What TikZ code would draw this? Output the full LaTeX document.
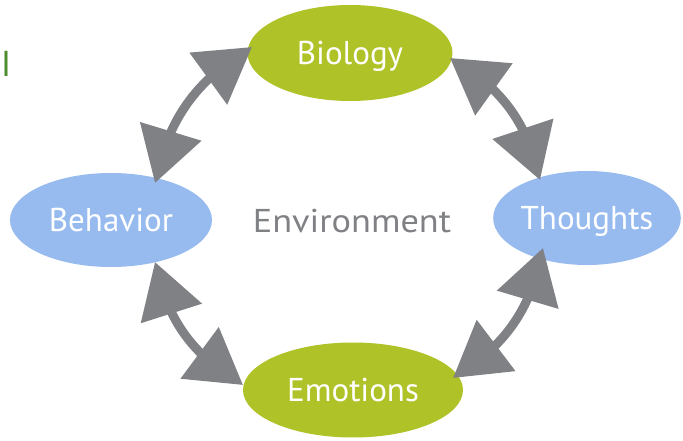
\documentclass[tikz,border=0pt]{standalone}
\usepackage{fontspec}
\setmainfont{PT Sans}
\usetikzlibrary{shapes.geometric,arrows.meta,bending}
\definecolor{bgreen}{RGB}{175,194,39}
\definecolor{bblue}{RGB}{151,186,239}
\definecolor{agray}{RGB}{128,129,133}
\definecolor{tgray}{RGB}{128,129,132}
\definecolor{igreen}{RGB}{78,140,46}
\begin{document}
\begin{tikzpicture}[x=1pt,y=-1pt,
  blob/.style={ellipse, inner sep=0pt, text=white, font=\fontsize{33}{33}\selectfont, text height=23pt, text depth=0pt},
  link/.style={draw=agray, line width=9pt, {Triangle[length=54pt,width=62pt]}-{Triangle[length=54pt,width=62pt]}, bend left=24}]
\useasboundingbox (0,0) rectangle (683,441);
\node[blob, fill=bgreen, minimum width=205pt, minimum height=96pt] (bio) at (350,53) {Biology};
\node[blob, fill=bblue, minimum width=202pt, minimum height=94pt] (beh) at (111,220) {Behavior};
\node[blob, fill=bblue, minimum width=180pt, minimum height=94pt] (tho) at (587,218) {Thoughts};
\node[blob, fill=bgreen, minimum width=220pt, minimum height=95pt] (emo) at (353,390) {Emotions};
\node[inner sep=0pt, text=tgray, font=\fontsize{33}{33}\selectfont\addfontfeature{FakeStretch=1.1}, text height=23pt, text depth=0pt] (env) at (352,221.5) {Environment};
\node[inner sep=0pt, text=igreen, font=\fontsize{36}{36}\selectfont, text height=25pt, text depth=0pt] (cur) at (6,64.5) {I};
\coordinate (a1) at (155,183);
\coordinate (a2) at (252,47);
\coordinate (b1) at (450,58);
\coordinate (b2) at (540,180);
\coordinate (c1) at (543,248);
\coordinate (c2) at (453,378);
\coordinate (d1) at (243,385);
\coordinate (d2) at (155,262);
\draw[link] (a1) to (a2);
\draw[link] (b1) to (b2);
\draw[link] (c1) to (c2);
\draw[link] (d1) to (d2);
\end{tikzpicture}
\end{document}
